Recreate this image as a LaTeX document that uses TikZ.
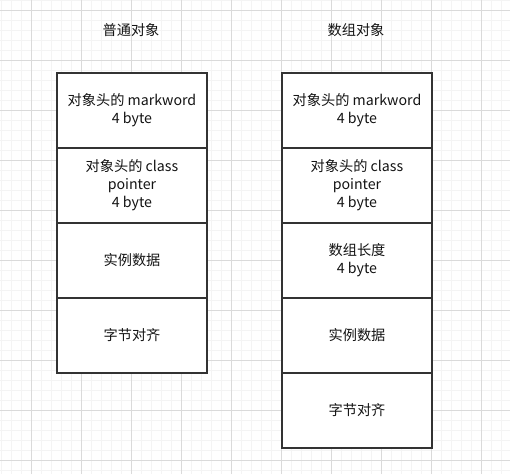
\documentclass[tikz,border=0pt]{standalone}
\usepackage{fontspec}
\setmainfont{Noto Sans CJK SC}
\usepackage{tikz}
\usetikzlibrary{positioning}
\definecolor{gridminor}{RGB}{244,244,244}
\definecolor{gridmajor}{RGB}{218,218,218}
\definecolor{boxline}{RGB}{51,51,51}
\definecolor{textgray}{RGB}{20,20,20}
\tikzset{
  membox/.style={draw=boxline,line width=1.4pt,fill=white,minimum width=150pt,minimum height=75pt,
    inner sep=0pt,outer sep=0pt,align=center,text=textgray,font=\fontsize{14.2}{18}\selectfont},
  coltitle/.style={text=textgray,font=\fontsize{14.2}{18}\selectfont}
}
\newcommand{\bggrid}{%
  \draw[gridminor,line width=0.8pt,shift={(1.5,4)}] (-1.5,-4) grid[step=10] (508.5,470);
  \draw[gridmajor,line width=0.8pt,shift={(31.5,14)}] (-31.5,-14) grid[step=50] (478.5,460);}

\begin{document}
\begin{tikzpicture}[x=1pt,y=1pt]
\useasboundingbox (0,0) rectangle (510,474);
\fill[white] (0,0) rectangle (510,474);
\bggrid
% normal object
\node[coltitle] (plaintitle) at (131,444) {普通对象};
\node[membox] (plainmark) at (132,363.5) {对象头的 markword\\4 byte};
\node[membox,below=0pt of plainmark] (plainklass) {对象头的 class\\pointer\\4 byte};
\node[membox,below=0pt of plainklass] (plaindata) {实例数据};
\node[membox,below=0pt of plaindata] (plainpad) {字节对齐};
% array object
\node[coltitle] (arraytitle) at (356,444) {数组对象};
\node[membox] (arraymark) at (357,363.5) {对象头的 markword\\4 byte};
\node[membox,below=0pt of arraymark] (arrayklass) {对象头的 class\\pointer\\4 byte};
\node[membox,below=0pt of arrayklass] (arraylen) {数组长度\\4 byte};
\node[membox,below=0pt of arraylen] (arraydata) {实例数据};
\node[membox,below=0pt of arraydata] (arraypad) {字节对齐};
\end{tikzpicture}
\end{document}
